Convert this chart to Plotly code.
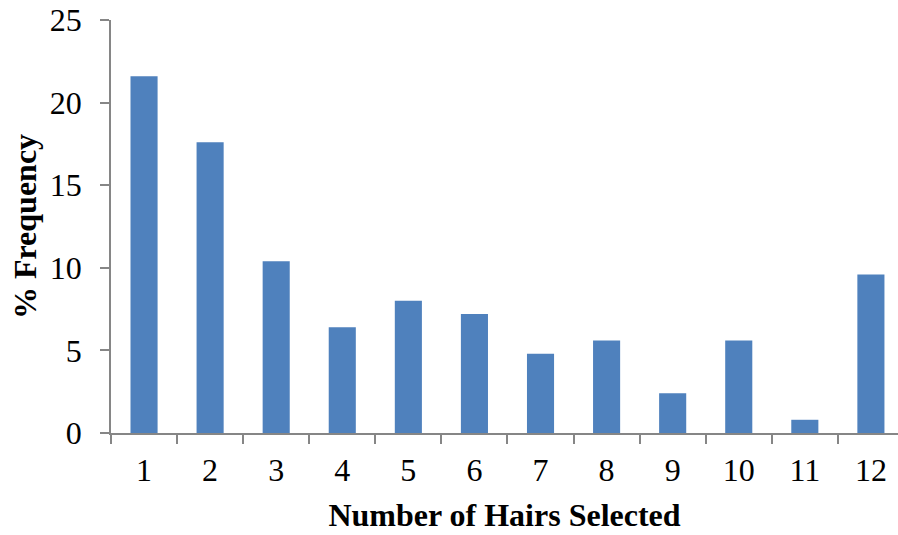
import plotly.graph_objects as go

# Percentage of trials by number of hairs selected
hairs = ["1", "2", "3", "4", "5", "6", "7", "8", "9", "10", "11", "12"]
freq_pct = [21.6, 17.6, 10.4, 6.4, 8.0, 7.2, 4.8, 5.6, 2.4, 5.6, 0.8, 9.6]
y_ticks = [0, 5, 10, 15, 20, 25]

BAR = "#4F81BD"
AXIS = "#868686"
FONT = "Liberation Serif, Times New Roman, serif"

fig = go.Figure(
    go.Bar(x=hairs, y=freq_pct, marker=dict(color=BAR, line=dict(width=0)), width=0.41)
)

fig.update_layout(
    width=898,
    height=535,
    margin=dict(l=111, r=0, t=20, b=102),
    plot_bgcolor="white",
    paper_bgcolor="white",
    showlegend=False,
    font=dict(family=FONT, color="black"),
)

fig.update_xaxes(
    type="category",
    range=[-0.5, 11.41],
    tickson="boundaries",
    ticks="outside",
    ticklen=9,
    tickwidth=1.5,
    tickcolor=AXIS,
    showline=True,
    linecolor=AXIS,
    linewidth=1.5,
    showgrid=False,
    tickfont=dict(size=32, family=FONT),
    ticklabelstandoff=8,
    title=dict(text="<b>Number of Hairs Selected</b>", font=dict(size=32, family=FONT), standoff=16),
)

fig.update_yaxes(
    range=[0, 25],
    tickvals=y_ticks,
    ticks="outside",
    ticklen=9,
    tickwidth=1.5,
    tickcolor=AXIS,
    showline=True,
    linecolor=AXIS,
    linewidth=1.5,
    showgrid=False,
    zeroline=False,
    tickfont=dict(size=32, family=FONT),
    ticklabelstandoff=12,
    title=dict(text="<b>% Frequency</b>", font=dict(size=32, family=FONT), standoff=4),
)

# extend the baseline a little left of the value axis
fig.add_shape(
    type="line", xref="paper", yref="y",
    x0=-0.0115, x1=0, y0=0, y1=0,
    line=dict(color=AXIS, width=1.5),
)

fig.write_html("out.html")
